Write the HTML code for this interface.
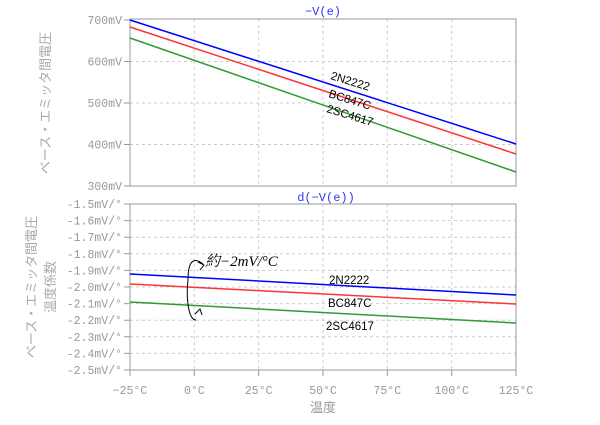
<!DOCTYPE html>
<html><head><meta charset="utf-8"><style>
body{margin:0;background:#fff}
svg text{font-family:"Liberation Mono","Noto Sans CJK JP",monospace}
svg text.s{font-family:"Liberation Sans","Noto Sans CJK JP",sans-serif}
svg text.r{font-family:"Liberation Serif","Noto Serif CJK SC",serif}
</style></head><body>
<svg width="600" height="420" xmlns="http://www.w3.org/2000/svg">
<g stroke="#ccc" stroke-dasharray="3,3" stroke-width="1">
<path d="M194.3 19V186M258.7 19V186M323 19V186M387.3 19V186M451.7 19V186"/>
<path d="M130 61.5H516M130 103H516M130 144.5H516"/>
<path d="M194.3 204V370M258.7 204V370M323 204V370M387.3 204V370M451.7 204V370"/>
<path d="M130 220.6H516M130 237.2H516M130 253.8H516M130 270.4H516M130 287H516M130 303.6H516M130 320.2H516M130 336.8H516M130 353.4H516"/>
</g>
<rect x="130" y="19" width="386" height="167" fill="none" stroke="#aaa" stroke-width="1.2"/>
<rect x="130" y="204" width="386" height="166" fill="none" stroke="#aaa" stroke-width="1.2"/>
<g stroke="#999" stroke-width="1">
<path d="M124 20H130M124 61.5H130M124 103H130M124 144.5H130M124 186H130"/>
<path d="M124 204H130M124 220.6H130M124 237.2H130M124 253.8H130M124 270.4H130M124 287H130M124 303.6H130M124 320.2H130M124 336.8H130M124 353.4H130M124 370H130"/>
<path d="M130 370V376M194.3 370V376M258.7 370V376M323 370V376M387.3 370V376M451.7 370V376M516 370V376"/>
</g>
<g font-size="11.5" fill="#999" text-anchor="end">
<text x="122" y="24">700mV</text><text x="122" y="65.5">600mV</text><text x="122" y="107">500mV</text><text x="122" y="148.5">400mV</text><text x="122" y="190">300mV</text>
<text x="122" y="208">-1.5mV/°</text><text x="122" y="224.6">-1.6mV/°</text><text x="122" y="241.2">-1.7mV/°</text><text x="122" y="257.8">-1.8mV/°</text><text x="122" y="274.4">-1.9mV/°</text><text x="122" y="291">-2.0mV/°</text><text x="122" y="307.6">-2.1mV/°</text><text x="122" y="324.2">-2.2mV/°</text><text x="122" y="340.8">-2.3mV/°</text><text x="122" y="357.4">-2.4mV/°</text><text x="122" y="374">-2.5mV/°</text>
</g>
<g font-size="11.5" fill="#999" text-anchor="middle">
<text x="130" y="394">−25°C</text><text x="194.3" y="394">0°C</text><text x="258.7" y="394">25°C</text><text x="323" y="394">50°C</text><text x="387.3" y="394">75°C</text><text x="451.7" y="394">100°C</text><text x="516" y="394">125°C</text>
<text x="323" y="412" font-size="13" class="s">温度</text>
</g>
<text x="323" y="15" font-size="12" fill="#33f" text-anchor="middle">−V(e)</text>
<text x="326" y="201" font-size="12" fill="#33f" text-anchor="middle">d(−V(e))</text>
<g font-size="13" fill="#aaa" text-anchor="middle">
<text class="s" transform="translate(50,103) rotate(-90)">ベース・エミッタ間電圧</text>
<text class="s" transform="translate(36,287) rotate(-90)">ベース・エミッタ間電圧</text>
<text class="s" transform="translate(55,287) rotate(-90)">温度係数</text>
</g>
<g fill="none" stroke-width="1.5">
<path d="M130 20L516 144" stroke="#00f"/>
<path d="M130 27L516 154" stroke="#f33"/>
<path d="M130 38L516 172" stroke="#393"/>
<path d="M130 274L516 295" stroke="#00f"/>
<path d="M130 284L516 304" stroke="#f33"/>
<path d="M130 302L516 323" stroke="#393"/>
</g>
<g font-size="11.5" fill="#000">
<text class="s" transform="translate(330,79) rotate(17)">2N2222</text>
<text class="s" transform="translate(328,97) rotate(17)">BC847C</text>
<text class="s" transform="translate(326,112) rotate(17)">2SC4617</text>
<text class="s" x="329" y="284">2N2222</text>
<text class="s" x="328" y="307">BC847C</text>
<text class="s" x="326" y="330">2SC4617</text>
</g>
<path d="M203 264C193 256 188 262 188 280C186 296 188 320 196 320" fill="none" stroke="#000" stroke-width="1"/>
<path d="M198 262L204 265L200 270M195 314L200 309L202 315" fill="none" stroke="#000" stroke-width="1"/>
<text x="205" y="266" font-size="15" fill="#000" class="r" font-style="italic">約−2mV/°C</text>
</svg>
</body></html>
